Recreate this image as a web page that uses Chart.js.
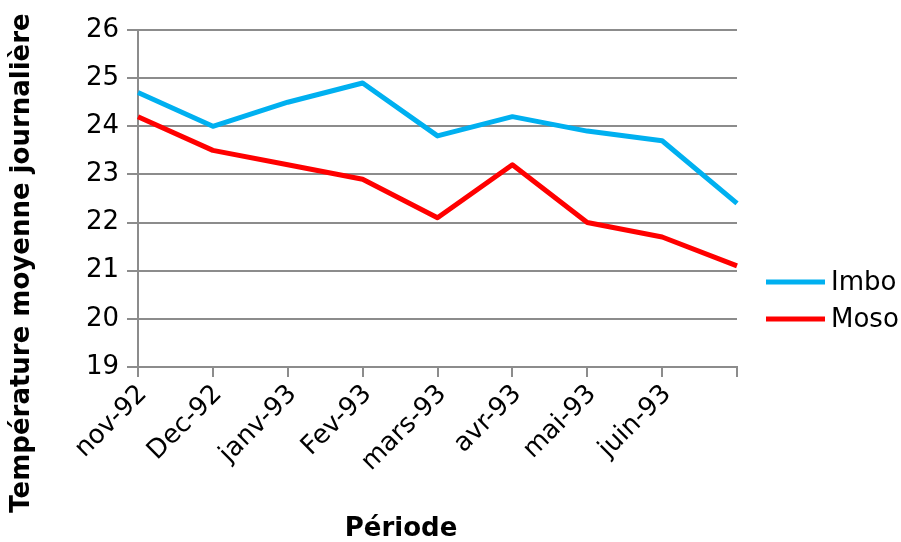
<!DOCTYPE html>
<html>
<head>
<meta charset="utf-8">
<script src="https://cdn.jsdelivr.net/npm/chart.js@4/dist/chart.umd.min.js"></script>
<style>
  html, body { margin: 0; padding: 0; background: #fff; }
  #wrap { width: 901px; height: 542px; position: relative; }
</style>
</head>
<body>
<div id="wrap"><canvas id="c" width="901" height="542"></canvas></div>
<script>
// Mean daily temperature per month, two stations
const periods = ['nov-92', 'Dec-92', 'janv-93', 'Fev-93', 'mars-93', 'avr-93', 'mai-93', 'juin-93', ''];
const imbo = [24.7, 24.0, 24.5, 24.9, 23.8, 24.2, 23.9, 23.7, 22.4];
const moso = [24.2, 23.5, 23.2, 22.9, 22.1, 23.2, 22.0, 21.7, 21.1];
const yTicks = [19, 20, 21, 22, 23, 24, 25, 26];

const FONT = 'DejaVu Sans';
const GRID = '#8c8c8c';

// Axis titles and a legend on the right, drawn after the chart
const decorations = {
  id: 'decorations',
  afterDraw(chart) {
    const ctx = chart.ctx;
    ctx.save();
    ctx.fillStyle = '#000';
    ctx.font = 'bold 26px "' + FONT + '"';
    ctx.textAlign = 'center';
    ctx.textBaseline = 'middle';
    ctx.fillText('Période', 401, 529);
    ctx.translate(22, 263);
    ctx.rotate(-Math.PI / 2);
    ctx.fillText('Température moyenne journalière', 0, 0);
    ctx.restore();

    ctx.save();
    const rows = [282, 319];
    chart.data.datasets.forEach((ds, i) => {
      const y = rows[i];
      ctx.strokeStyle = ds.borderColor;
      ctx.lineWidth = 5;
      ctx.beginPath();
      ctx.moveTo(766, y);
      ctx.lineTo(825, y);
      ctx.stroke();
      ctx.fillStyle = '#000';
      ctx.font = '26px "' + FONT + '"';
      ctx.textAlign = 'left';
      ctx.textBaseline = 'middle';
      ctx.fillText(ds.label, 831, y + 1);
    });
    ctx.restore();
  }
};

new Chart(document.getElementById('c'), {
  type: 'line',
  data: {
    labels: periods,
    datasets: [
      { label: 'Imbo', data: imbo, borderColor: '#00b0f0', backgroundColor: '#00b0f0',
        borderWidth: 5, pointRadius: 0, tension: 0, borderJoinStyle: 'round' },
      { label: 'Moso', data: moso, borderColor: '#ff0000', backgroundColor: '#ff0000',
        borderWidth: 5, pointRadius: 0, tension: 0, borderJoinStyle: 'round' }
    ]
  },
  options: {
    responsive: false,
    animation: false,
    devicePixelRatio: 1,
    layout: { padding: { left: 0, right: 164, top: 30, bottom: 0 } },
    plugins: { legend: { display: false }, tooltip: { enabled: false } },
    scales: {
      x: {
        type: 'category',
        offset: false,
        grid: { drawOnChartArea: false, drawTicks: true, tickLength: 10, color: GRID, lineWidth: 2 },
        border: { display: true, color: GRID, width: 2 },
        ticks: {
          autoSkip: false, maxRotation: 45, minRotation: 45, padding: 2, labelOffset: 5,
          color: '#000', font: { family: FONT, size: 26 }
        },
        afterFit(s) { s.height = 175; }
      },
      y: {
        min: 19, max: 26,
        afterBuildTicks(s) { s.ticks = yTicks.map(v => ({ value: v })); },
        grid: { color: GRID, lineWidth: 2, tickLength: 11 },
        border: { display: true, color: GRID, width: 2 },
        ticks: { color: '#000', padding: 8, font: { family: FONT, size: 26 } },
        afterFit(s) { s.width = 138; }
      }
    }
  },
  plugins: [decorations]
});
</script>
</body>
</html>
